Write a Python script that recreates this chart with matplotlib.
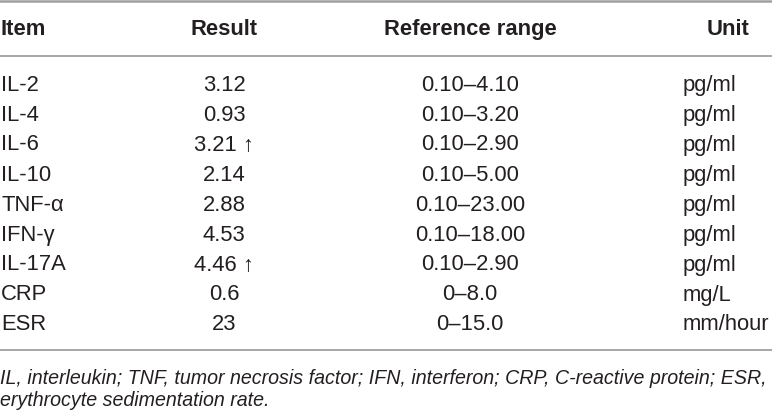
import matplotlib.pyplot as plt
from matplotlib.lines import Line2D

plt.rcParams['font.family'] = ['Liberation Sans', 'DejaVu Sans']

# table contents
headers = ["Item", "Result", "Reference range", "Unit"]
items = ["IL-2", "IL-4", "IL-6", "IL-10", "TNF-α", "IFN-γ", "IL-17A", "CRP", "ESR"]
results = ["3.12", "0.93", "3.21 ↑", "2.14", "2.88", "4.53", "4.46 ↑", "0.6", "23"]
ref_ranges = ["0.10–4.10", "0.10–3.20", "0.10–2.90", "0.10–5.00", "0.10–23.00",
              "0.10–18.00", "0.10–2.90", "0–8.0", "0–15.0"]
units = ["pg/ml", "pg/ml", "pg/ml", "pg/ml", "pg/ml", "pg/ml", "pg/ml", "mg/L", "mm/hour"]
footnote = ["IL, interleukin; TNF, tumor necrosis factor; IFN, interferon; CRP, C-reactive protein; ESR,",
            "erythrocyte sedimentation rate."]

W, H = 772, 412
fig = plt.figure(figsize=(W / 100, H / 100), dpi=100)
ax = fig.add_axes([0, 0, 1, 1])
ax.set_xlim(0, W)
ax.set_ylim(H, 0)
ax.axis('off')

fs = 15.8
txt_col = '#231f20'
line_col = '#a0a0a0'

# rules
ax.add_line(Line2D([0, W], [1.2, 1.2], color=line_col, lw=1.8))
ax.add_line(Line2D([0, W], [55.5, 55.5], color=line_col, lw=1.3))
ax.add_line(Line2D([0, W], [350, 350], color=line_col, lw=1.3))

# header row
hy = 29
ax.text(1, hy, headers[0], ha='left', va='center', fontsize=fs, fontweight='bold', color=txt_col)
ax.text(224, hy, headers[1], ha='center', va='center', fontsize=fs, fontweight='bold', color=txt_col)
ax.text(470, hy, headers[2], ha='center', va='center', fontsize=fs, fontweight='bold', color=txt_col)
ax.text(749, hy, headers[3], ha='right', va='center', fontsize=fs, fontweight='bold', color=txt_col)

# body rows
for i in range(len(items)):
    y = 85 + 30 * i
    ax.text(1, y, items[i], ha='left', va='center', fontsize=fs, color=txt_col)
    ax.text(224, y, results[i], ha='center', va='center', fontsize=fs, color=txt_col)
    ax.text(470, y, ref_ranges[i], ha='center', va='center', fontsize=fs, color=txt_col)
    ax.text(683, y, units[i], ha='left', va='center', fontsize=fs, color=txt_col)

# footnote
for j, line in enumerate(footnote):
    ax.text(0, 378 + 22.5 * j, line, ha='left', va='center', fontsize=14.1,
            style='italic', color=txt_col)

fig.savefig('out.png', dpi=100)
